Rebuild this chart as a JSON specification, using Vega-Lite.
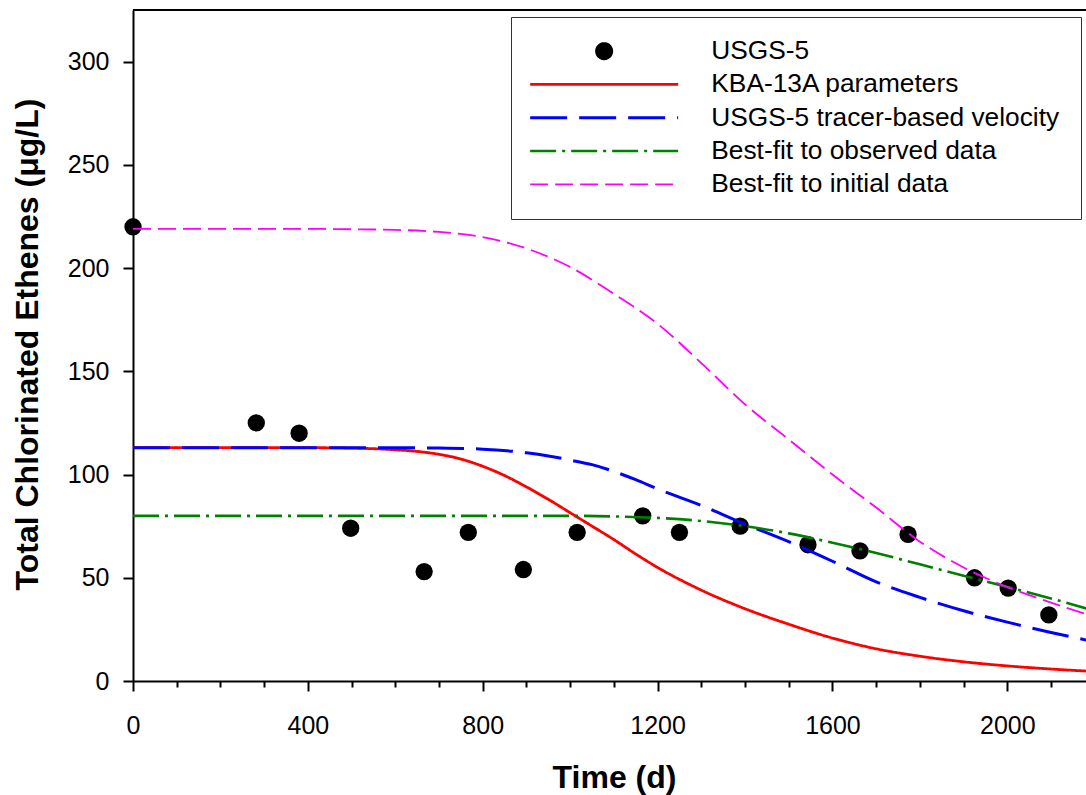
{
  "$schema": "https://vega.github.io/schema/vega-lite/v6.json",
  "width": 953,
  "height": 671,
  "autosize": {"type": "none"},
  "padding": {"left": 133, "top": 10, "right": 0, "bottom": 114},
  "background": "white",
  "config": {
    "view": {"stroke": null},
    "font": "Liberation Sans",
    "axis": {
      "grid": false,
      "domainColor": "black",
      "domainWidth": 2,
      "tickColor": "black",
      "tickWidth": 2,
      "labelColor": "black",
      "titleColor": "black",
      "labelFont": "Liberation Sans",
      "titleFont": "Liberation Sans",
      "labelFontSize": 25,
      "titleFontSize": 32,
      "titleFontWeight": "bold",
      "labelFlush": false
    },
    "legend": {
      "orient": "none",
      "legendX": 378,
      "legendY": 7,
      "strokeColor": "#333333",
      "padding": 21,
      "symbolSize": 256,
      "symbolStrokeWidth": 2.5,
      "symbolOffset": 59,
      "labelOffset": 94,
      "labelFontSize": 26.3,
      "labelFont": "Liberation Sans",
      "labelColor": "black",
      "labelLimit": 0,
      "rowPadding": 6.3
    }
  },
  "datasets": {
    "obs": [
      {"series": "USGS-5", "t": 0, "c": 220},
      {"series": "USGS-5", "t": 282, "c": 125},
      {"series": "USGS-5", "t": 380, "c": 120},
      {"series": "USGS-5", "t": 498, "c": 74},
      {"series": "USGS-5", "t": 666, "c": 53},
      {"series": "USGS-5", "t": 767, "c": 72},
      {"series": "USGS-5", "t": 893, "c": 54},
      {"series": "USGS-5", "t": 1016, "c": 72},
      {"series": "USGS-5", "t": 1166, "c": 80},
      {"series": "USGS-5", "t": 1250, "c": 72},
      {"series": "USGS-5", "t": 1389, "c": 75},
      {"series": "USGS-5", "t": 1544, "c": 66},
      {"series": "USGS-5", "t": 1663, "c": 63},
      {"series": "USGS-5", "t": 1773, "c": 71},
      {"series": "USGS-5", "t": 1925, "c": 50},
      {"series": "USGS-5", "t": 2002, "c": 45},
      {"series": "USGS-5", "t": 2095, "c": 32}
    ],
    "curves": [
      {"series": "KBA-13A parameters", "t": 0, "c": 113},
      {"series": "KBA-13A parameters", "t": 200, "c": 113},
      {"series": "KBA-13A parameters", "t": 400, "c": 113},
      {"series": "KBA-13A parameters", "t": 500, "c": 112.8},
      {"series": "KBA-13A parameters", "t": 600, "c": 112},
      {"series": "KBA-13A parameters", "t": 650, "c": 111.2},
      {"series": "KBA-13A parameters", "t": 700, "c": 109.8},
      {"series": "KBA-13A parameters", "t": 750, "c": 107.5},
      {"series": "KBA-13A parameters", "t": 800, "c": 104},
      {"series": "KBA-13A parameters", "t": 850, "c": 99.5},
      {"series": "KBA-13A parameters", "t": 900, "c": 94},
      {"series": "KBA-13A parameters", "t": 950, "c": 88},
      {"series": "KBA-13A parameters", "t": 1000, "c": 81.5},
      {"series": "KBA-13A parameters", "t": 1050, "c": 75},
      {"series": "KBA-13A parameters", "t": 1100, "c": 68.5},
      {"series": "KBA-13A parameters", "t": 1150, "c": 61.5},
      {"series": "KBA-13A parameters", "t": 1200, "c": 55},
      {"series": "KBA-13A parameters", "t": 1300, "c": 44},
      {"series": "KBA-13A parameters", "t": 1400, "c": 35},
      {"series": "KBA-13A parameters", "t": 1500, "c": 27.5},
      {"series": "KBA-13A parameters", "t": 1600, "c": 20.8},
      {"series": "KBA-13A parameters", "t": 1700, "c": 15.6},
      {"series": "KBA-13A parameters", "t": 1800, "c": 12},
      {"series": "KBA-13A parameters", "t": 1900, "c": 9.3},
      {"series": "KBA-13A parameters", "t": 2000, "c": 7.3},
      {"series": "KBA-13A parameters", "t": 2100, "c": 5.8},
      {"series": "KBA-13A parameters", "t": 2200, "c": 4.6},
      {"series": "USGS-5 tracer-based velocity", "t": 0, "c": 113},
      {"series": "USGS-5 tracer-based velocity", "t": 300, "c": 113},
      {"series": "USGS-5 tracer-based velocity", "t": 600, "c": 113},
      {"series": "USGS-5 tracer-based velocity", "t": 700, "c": 112.8},
      {"series": "USGS-5 tracer-based velocity", "t": 800, "c": 112.3},
      {"series": "USGS-5 tracer-based velocity", "t": 900, "c": 110.5},
      {"series": "USGS-5 tracer-based velocity", "t": 950, "c": 109},
      {"series": "USGS-5 tracer-based velocity", "t": 1000, "c": 107},
      {"series": "USGS-5 tracer-based velocity", "t": 1050, "c": 104.8},
      {"series": "USGS-5 tracer-based velocity", "t": 1100, "c": 101.5},
      {"series": "USGS-5 tracer-based velocity", "t": 1150, "c": 97.5},
      {"series": "USGS-5 tracer-based velocity", "t": 1200, "c": 93},
      {"series": "USGS-5 tracer-based velocity", "t": 1300, "c": 85},
      {"series": "USGS-5 tracer-based velocity", "t": 1400, "c": 76},
      {"series": "USGS-5 tracer-based velocity", "t": 1500, "c": 67.5},
      {"series": "USGS-5 tracer-based velocity", "t": 1600, "c": 58},
      {"series": "USGS-5 tracer-based velocity", "t": 1700, "c": 48},
      {"series": "USGS-5 tracer-based velocity", "t": 1800, "c": 40.5},
      {"series": "USGS-5 tracer-based velocity", "t": 1900, "c": 34},
      {"series": "USGS-5 tracer-based velocity", "t": 2000, "c": 28.5},
      {"series": "USGS-5 tracer-based velocity", "t": 2100, "c": 23.5},
      {"series": "USGS-5 tracer-based velocity", "t": 2200, "c": 19},
      {"series": "Best-fit to observed data", "t": 0, "c": 80},
      {"series": "Best-fit to observed data", "t": 500, "c": 80},
      {"series": "Best-fit to observed data", "t": 1000, "c": 80},
      {"series": "Best-fit to observed data", "t": 1100, "c": 79.7},
      {"series": "Best-fit to observed data", "t": 1200, "c": 79},
      {"series": "Best-fit to observed data", "t": 1300, "c": 77.5},
      {"series": "Best-fit to observed data", "t": 1400, "c": 75},
      {"series": "Best-fit to observed data", "t": 1500, "c": 71.5},
      {"series": "Best-fit to observed data", "t": 1600, "c": 67},
      {"series": "Best-fit to observed data", "t": 1700, "c": 62},
      {"series": "Best-fit to observed data", "t": 1800, "c": 56.5},
      {"series": "Best-fit to observed data", "t": 1900, "c": 51},
      {"series": "Best-fit to observed data", "t": 2000, "c": 45.5},
      {"series": "Best-fit to observed data", "t": 2100, "c": 40},
      {"series": "Best-fit to observed data", "t": 2200, "c": 34},
      {"series": "Best-fit to initial data", "t": 0, "c": 219},
      {"series": "Best-fit to initial data", "t": 200, "c": 219},
      {"series": "Best-fit to initial data", "t": 400, "c": 219},
      {"series": "Best-fit to initial data", "t": 500, "c": 218.8},
      {"series": "Best-fit to initial data", "t": 600, "c": 218.5},
      {"series": "Best-fit to initial data", "t": 700, "c": 217.5},
      {"series": "Best-fit to initial data", "t": 800, "c": 215},
      {"series": "Best-fit to initial data", "t": 900, "c": 209.5},
      {"series": "Best-fit to initial data", "t": 1000, "c": 200.5},
      {"series": "Best-fit to initial data", "t": 1100, "c": 187.5},
      {"series": "Best-fit to initial data", "t": 1200, "c": 173},
      {"series": "Best-fit to initial data", "t": 1300, "c": 154},
      {"series": "Best-fit to initial data", "t": 1400, "c": 134},
      {"series": "Best-fit to initial data", "t": 1500, "c": 117},
      {"series": "Best-fit to initial data", "t": 1600, "c": 100},
      {"series": "Best-fit to initial data", "t": 1700, "c": 84},
      {"series": "Best-fit to initial data", "t": 1800, "c": 67.5},
      {"series": "Best-fit to initial data", "t": 1900, "c": 55},
      {"series": "Best-fit to initial data", "t": 2000, "c": 45.5},
      {"series": "Best-fit to initial data", "t": 2100, "c": 38},
      {"series": "Best-fit to initial data", "t": 2200, "c": 31}
    ]
  },
  "resolve": {"axis": {"x": "independent"}},
  "layer": [
    {
      "data": {"values": [{}]},
      "mark": {"type": "rule", "color": "black", "strokeWidth": 2},
      "encoding": {
        "y": {"datum": 325, "type": "quantitative", "title": "Total Chlorinated Ethenes (μg/L)", "scale": {"domain": [0, 325], "nice": false, "zero": true}}
      }
    },
    {
      "data": {"name": "obs"},
      "mark": {"type": "point", "filled": true, "size": 300, "opacity": 1, "strokeWidth": 0},
      "encoding": {
        "x": {
          "field": "t", "type": "quantitative",
          "scale": {"domain": [0, 2180], "nice": false, "zero": false},
          "axis": {"orient": "bottom", "values": [100, 200, 300, 500, 600, 700, 900, 1000, 1100, 1300, 1400, 1500, 1700, 1800, 1900, 2100], "tickSize": 6, "labels": false, "domain": false, "title": null}
        },
        "y": {"field": "c", "type": "quantitative", "title": "Total Chlorinated Ethenes (μg/L)", "scale": {"domain": [0, 325], "nice": false, "zero": true}},
        "color": {
          "field": "series", "type": "nominal", "legend": {"title": null},
          "scale": {
            "domain": ["USGS-5", "KBA-13A parameters", "USGS-5 tracer-based velocity", "Best-fit to observed data", "Best-fit to initial data"],
            "range": ["#000000", "#FF0000", "#0000FF", "#008000", "#FF00FF"]
          }
        },
        "shape": {
          "field": "series", "type": "nominal", "legend": {"title": null},
          "scale": {
            "domain": ["USGS-5", "KBA-13A parameters", "USGS-5 tracer-based velocity", "Best-fit to observed data", "Best-fit to initial data"],
            "range": ["circle", "M-9.25,0H9.25", "M-9.25,0H9.25", "M-9.25,0H9.25", "M-9.25,0H9.25"]
          }
        }
      }
    },
    {
      "data": {"name": "curves"},
      "mark": {"type": "line", "interpolate": "monotone", "clip": true},
      "encoding": {
        "x": {
          "field": "t", "type": "quantitative",
          "scale": {"domain": [0, 2180], "nice": false, "zero": false},
          "axis": {
            "orient": "bottom",
            "values": [0, 400, 800, 1200, 1600, 2000],
            "format": "d",
            "tickSize": 10,
            "labelPadding": 42,
            "labelBaseline": "alphabetic",
            "title": "Time (d)",
            "titleX": 481,
            "titleY": 106,
            "titleBaseline": "alphabetic"
          }
        },
        "y": {
          "field": "c", "type": "quantitative", "title": "Total Chlorinated Ethenes (μg/L)",
          "scale": {"domain": [0, 325], "nice": false, "zero": true},
          "axis": {
            "values": [0, 50, 100, 150, 200, 250, 300],
            "format": "d",
            "tickSize": 10,
            "labelPadding": 14,
            "titleX": -96,
            "titleY": 334,
            "titleBaseline": "alphabetic"
          }
        },
        "color": {
          "field": "series", "type": "nominal", "legend": {"title": null},
          "scale": {
            "domain": ["USGS-5", "KBA-13A parameters", "USGS-5 tracer-based velocity", "Best-fit to observed data", "Best-fit to initial data"],
            "range": ["#000000", "#FF0000", "#0000FF", "#008000", "#FF00FF"]
          }
        },
        "strokeDash": {
          "field": "series", "type": "nominal", "legend": {"title": null},
          "scale": {
            "domain": ["USGS-5", "KBA-13A parameters", "USGS-5 tracer-based velocity", "Best-fit to observed data", "Best-fit to initial data"],
            "range": [[1, 0], [1, 0], [37, 12], [26, 6, 3, 6], [18, 7]]
          }
        },
        "strokeWidth": {
          "field": "series", "type": "nominal", "legend": null,
          "scale": {
            "type": "ordinal",
            "domain": ["USGS-5", "KBA-13A parameters", "USGS-5 tracer-based velocity", "Best-fit to observed data", "Best-fit to initial data"],
            "range": [2, 2.8, 3, 2.6, 1.8]
          }
        }
      }
    }
  ]
}
